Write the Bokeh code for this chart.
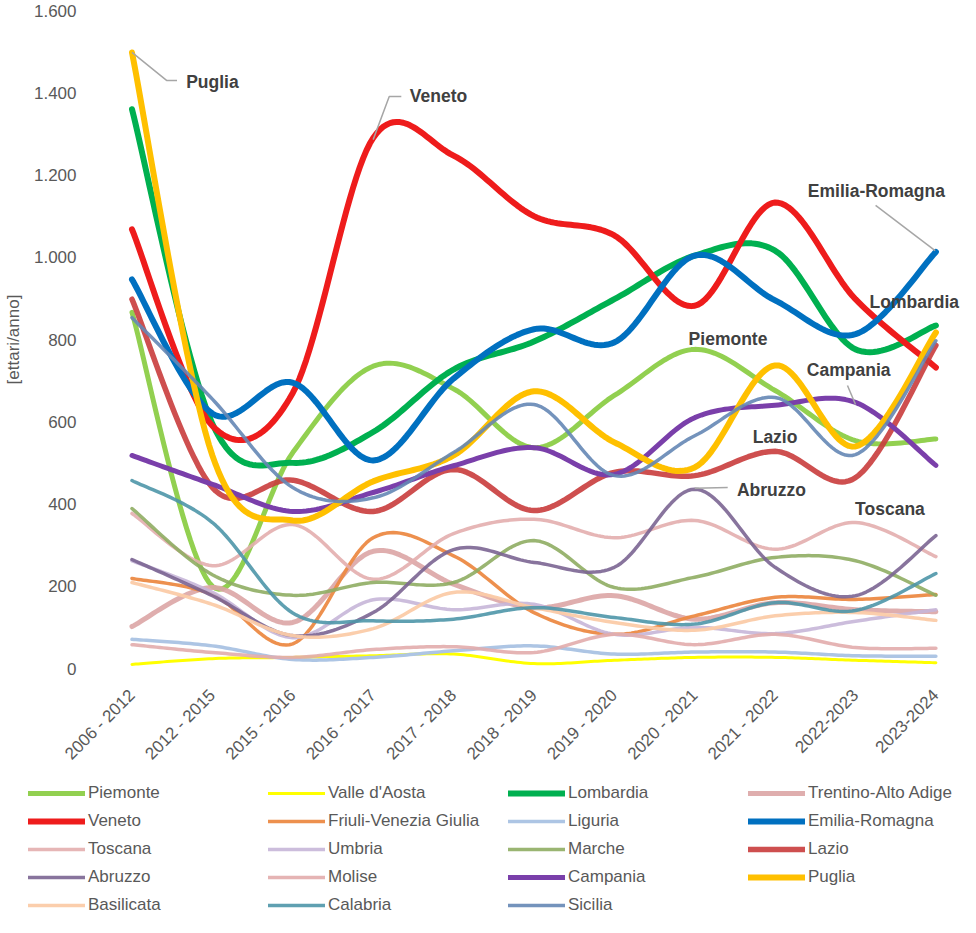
import math
import numpy as np
from bokeh.plotting import figure
from bokeh.layouts import column, row
from bokeh.models import Range1d, FixedTicker, Label, Legend, LegendItem
from bokeh.embed import file_html
from bokeh.resources import INLINE

FONT = "Liberation Sans"

periods = ["2006 - 2012", "2012 - 2015", "2015 - 2016", "2016 - 2017", "2017 - 2018",
           "2018 - 2019", "2019 - 2020", "2020 - 2021", "2021 - 2022", "2022-2023", "2023-2024"]

piemonte = [866, 200, 525, 735, 680, 537, 664, 776, 676, 554, 558]
valle_aosta = [10, 24, 27, 31, 35, 12, 20, 27, 27, 20, 14]
lombardia = [1360, 595, 500, 575, 727, 795, 898, 1004, 1016, 776, 834]
trentino = [102, 197, 112, 285, 205, 148, 177, 120, 160, 143, 138]
veneto = [1068, 590, 670, 1290, 1247, 1100, 1053, 882, 1133, 898, 732]
friuli = [219, 180, 60, 318, 274, 136, 83, 128, 173, 168, 180]
liguria = [71, 55, 22, 27, 43, 55, 35, 40, 40, 31, 30]
emilia = [946, 620, 695, 506, 705, 825, 793, 1004, 895, 813, 1013]
toscana = [377, 250, 350, 217, 328, 363, 318, 360, 290, 355, 272]
umbria = [262, 185, 75, 167, 143, 156, 83, 100, 85, 115, 143]
marche = [389, 228, 178, 209, 209, 311, 197, 222, 270, 262, 178]
lazio = [898, 440, 458, 382, 484, 384, 477, 469, 528, 464, 786]
abruzzo = [265, 177, 80, 136, 289, 258, 246, 436, 246, 177, 323]
molise = [58, 39, 27, 46, 53, 39, 83, 58, 83, 51, 49]
campania = [518, 448, 382, 428, 493, 537, 472, 610, 640, 647, 494]
puglia = [1498, 518, 360, 455, 518, 674, 550, 489, 737, 540, 817]
basilicata = [209, 156, 80, 97, 185, 148, 112, 93, 128, 136, 117]
calabria = [457, 355, 135, 116, 120, 148, 124, 108, 160, 141, 231]
sicilia = [853, 655, 440, 415, 525, 642, 469, 566, 659, 520, 797]

series = [
    ("Piemonte", piemonte, "#92D050", 5.0, 1.0),
    ("Valle d'Aosta", valle_aosta, "#FFFF00", 3.0, 1.0),
    ("Lombardia", lombardia, "#00B050", 6.0, 1.0),
    ("Trentino-Alto Adige", trentino, "#DCA5A5", 5.0, 0.9),
    ("Veneto", veneto, "#EE1C1C", 6.0, 1.0),
    ("Friuli-Venezia Giulia", friuli, "#EC8A45", 3.5, 0.95),
    ("Liguria", liguria, "#ADC5E4", 3.5, 1.0),
    ("Emilia-Romagna", emilia, "#0070C0", 6.0, 1.0),
    ("Toscana", toscana, "#E3AEAE", 3.5, 0.9),
    ("Umbria", umbria, "#C6B6D8", 3.5, 0.9),
    ("Marche", marche, "#8FAD63", 3.5, 0.9),
    ("Lazio", lazio, "#C93C3C", 5.5, 0.9),
    ("Abruzzo", abruzzo, "#7B6592", 3.5, 0.9),
    ("Molise", molise, "#E2ACAC", 3.5, 0.9),
    ("Campania", campania, "#7A3FAA", 5.0, 1.0),
    ("Puglia", puglia, "#FFC000", 6.0, 1.0),
    ("Basilicata", basilicata, "#FBCBA8", 3.5, 0.95),
    ("Calabria", calabria, "#4E96A8", 3.5, 0.9),
    ("Sicilia", sicilia, "#6587B5", 3.5, 0.9),
]

yticks = [0, 200, 400, 600, 800, 1000, 1200, 1400, 1600]


def smooth(ys, n=24):
    xs = np.arange(len(ys), dtype=float)
    P = np.column_stack([xs, np.asarray(ys, dtype=float)])
    E = np.vstack([P[0], P, P[-1]])
    t = np.linspace(0, 1, n, endpoint=False)[:, None]
    out = []
    for i in range(len(P) - 1):
        p0, p1, p2, p3 = E[i], E[i + 1], E[i + 2], E[i + 3]
        seg = 0.5 * (2 * p1 + (-p0 + p2) * t + (2 * p0 - 5 * p1 + 4 * p2 - p3) * t ** 2
                     + (-p0 + 3 * p1 - 3 * p2 + p3) * t ** 3)
        out.append(seg)
    out.append(P[-1:])
    C = np.vstack(out)
    return C[:, 0], C[:, 1]


p = figure(width=960, height=775, output_backend="svg", toolbar_location=None,
           x_range=Range1d(-0.429, 10.306), y_range=Range1d(0, 1600),
           min_border_left=84, min_border_right=0, min_border_top=10, min_border_bottom=107)
p.outline_line_color = None
p.xgrid.visible = False
p.ygrid.visible = False
p.background_fill_color = "white"
p.border_fill_color = "white"

for name, vals, color, lw, alpha in series:
    sx, sy = smooth(vals)
    p.line(sx, sy, line_color=color, line_width=lw, line_alpha=alpha,
           line_cap="round", line_join="round")

xa = p.xaxis[0]
xa.ticker = FixedTicker(ticks=list(range(len(periods))))
xa.major_label_overrides = {i: lab for i, lab in enumerate(periods)}
xa.major_label_orientation = math.pi / 4
xa.axis_line_color = None
xa.major_tick_line_color = None
xa.minor_tick_line_color = None
xa.major_label_text_font = FONT
xa.major_label_text_font_size = "17px"
xa.major_label_text_color = "#595959"
xa.major_label_standoff = 18

ya = p.yaxis[0]
ya.ticker = FixedTicker(ticks=yticks)
ya.major_label_overrides = {v: f"{v:,}".replace(",", ".") for v in yticks}
ya.axis_line_color = None
ya.major_tick_line_color = None
ya.minor_tick_line_color = None
ya.major_label_text_font = FONT
ya.major_label_text_font_size = "17px"
ya.major_label_text_color = "#595959"
ya.major_label_standoff = 15
ya.axis_label = "[ettari/anno]"
ya.axis_label_text_font = FONT
ya.axis_label_text_font_size = "17px"
ya.axis_label_text_font_style = "normal"
ya.axis_label_text_color = "#595959"
ya.axis_label_standoff = 8

labels = [
    ("Puglia", 0.674, 1427), ("Veneto", 3.456, 1391), ("Emilia-Romagna", 8.407, 1162),
    ("Lombardia", 9.175, 892), ("Piemonte", 6.924, 802), ("Campania", 8.395, 727),
    ("Lazio", 7.721, 564), ("Abruzzo", 7.525, 435), ("Toscana", 8.995, 389),
]
for txt, lx, ly in labels:
    p.add_layout(Label(x=lx, y=ly, text=txt, text_font=FONT, text_font_size="17.5px",
                       text_font_style="bold", text_color="#404040",
                       text_baseline="middle", text_align="left"))

leaders = [
    ([0, 0.43, 0.56], [1498, 1430, 1430]),
    ([3.0, 3.2, 3.35], [1286, 1391, 1391]),
    ([9.25, 9.99], [1126, 1016]),
    ([8.90, 9.0], [688, 642]),
    ([7.0, 7.41], [438, 440]),
]
for lxs, lys in leaders:
    p.line(lxs, lys, line_color="#A6A6A6", line_width=1.5)

# legend panel (separate figure below the chart, same styles as the lines)
q = figure(width=960, height=142, output_backend="svg", toolbar_location=None,
           x_range=Range1d(0, 1), y_range=Range1d(0, 1), x_axis_type=None, y_axis_type=None,
           min_border=0, min_border_left=0, min_border_right=0, min_border_top=0,
           min_border_bottom=0)
q.outline_line_color = None
q.xgrid.visible = False
q.ygrid.visible = False
q.border_fill_color = "white"
q.background_fill_color = "white"

proxies = {}
for name, vals, color, lw, alpha in series:
    proxies[name] = q.line(x=[-5, -4], y=[-5, -5], line_color=color, line_width=lw,
                           line_alpha=alpha, line_cap="round")

names = [s[0] for s in series]
for r in range(5):
    chunk = names[r * 4:(r + 1) * 4]
    items = [LegendItem(label=n, renderers=[proxies[n]]) for n in chunk]
    leg = Legend(items=items, orientation="horizontal", location=(28, 114 - 28 * r),
                 glyph_width=57, glyph_height=20, label_height=20, label_width=170,
                 label_standoff=3, spacing=10, padding=0, margin=0,
                 border_line_color=None, background_fill_alpha=0,
                 label_text_font=FONT, label_text_font_size="17px",
                 label_text_color="#595959")
    q.add_layout(leg)

layout = column(p, row(q), spacing=0)
open("out.html", "w").write(file_html(layout, INLINE))
